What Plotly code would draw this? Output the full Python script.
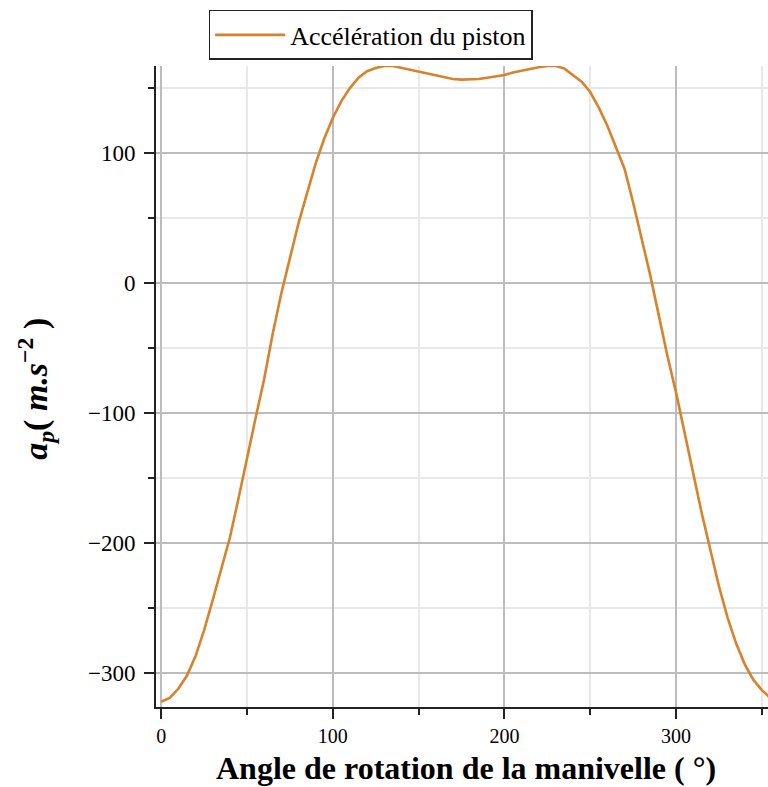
import plotly.graph_objects as go

# Crank angle (degrees)
angle_deg = [0, 5, 10, 15, 20, 25, 30, 35, 40, 45, 50, 55, 60, 65, 70, 75, 80, 85, 90, 95,
             100, 105, 110, 115, 120, 125, 130, 135, 140, 145, 150, 155, 160, 165, 170, 175,
             180, 185, 190, 195, 200, 205, 210, 215, 220, 225, 230, 235, 240, 245, 250, 255,
             260, 265, 270, 275, 280, 285, 290, 295, 300, 305, 310, 315, 320, 325, 330, 335,
             340, 345, 350, 355, 360]
# Piston acceleration (m.s^-2)
accel = [-322, -319, -312, -302, -287, -267, -244, -220, -196, -166, -134, -104, -74, -39, -8, 20,
         46, 69, 92, 111, 127, 140, 150, 158, 163, 165.5, 167, 167, 165.5, 164, 162.5, 161, 159.5,
         158.5, 157, 156.5, 156.5, 157, 158, 159, 160, 162, 163.5, 164.5, 166, 167, 167, 165,
         160, 155, 147, 135, 121, 104, 88, 62, 35, 6, -25, -56, -84, -115, -148, -177, -205,
         -233, -257, -277, -293, -305, -313, -319, -322]

series_name = "Accélération du piston"
x_major_ticks = [0, 100, 200, 300]
y_major_ticks = [-300, -200, -100, 0, 100]

fig = go.Figure()
fig.add_trace(go.Scatter(
    x=angle_deg, y=accel, mode="lines", name=series_name,
    line=dict(color="#D8822C", width=2.6),
))

serif = "Liberation Serif"
fig.update_layout(
    width=768, height=787,
    margin=dict(l=156, r=0, t=66, b=80),
    plot_bgcolor="white", paper_bgcolor="white",
    font=dict(family=serif, color="black", size=20),
    showlegend=True,
    legend=dict(
        x=0.086, y=1.0874, xanchor="left", yanchor="top",
        orientation="h", bordercolor="#222222", borderwidth=1.5,
        bgcolor="white", font=dict(family=serif, size=26, color="black"),
        itemwidth=70,
    ),
    xaxis=dict(
        range=[-3, 353.6], tickvals=x_major_ticks, ticks="outside", ticklen=10,
        tickwidth=1.5, tickcolor="#222222",
        showline=True, linecolor="#222222", linewidth=2,
        showgrid=True, gridcolor="#bdbdbd", gridwidth=2, zeroline=False,
        minor=dict(dtick=50, tick0=0, ticks="outside", ticklen=6, tickcolor="#222222",
                   showgrid=True, gridcolor="#e8e8e8", gridwidth=1.5),
        tickfont=dict(family=serif, size=20),
    ),
    yaxis=dict(
        range=[-326, 167], tickvals=y_major_ticks, ticks="outside", ticklen=10,
        tickwidth=1.5, tickcolor="#222222",
        showline=True, linecolor="#222222", linewidth=2,
        showgrid=True, gridcolor="#bdbdbd", gridwidth=2, zeroline=False,
        minor=dict(dtick=50, tick0=0, ticks="outside", ticklen=6, tickcolor="#222222",
                   showgrid=True, gridcolor="#e8e8e8", gridwidth=1.5),
        tickfont=dict(family=serif, size=23),
        ticklabelstandoff=4,
    ),
    annotations=[
        dict(text="<b>Angle de rotation de la manivelle ( °)</b>",
             xref="paper", yref="paper", x=0.507, y=-0.1253, xanchor="center", yanchor="bottom",
             borderpad=0,
             showarrow=False, font=dict(family=serif, size=32, color="black")),
        dict(text="<b><i>a</i><sub><i>p</i></sub>( <i>m.s</i><sup>−2</sup> )</b>",
             xref="paper", yref="paper", x=-0.197, y=0.497, xanchor="center", yanchor="middle",
             textangle=-90, showarrow=False, font=dict(family=serif, size=34, color="black")),
    ],
)

fig.write_html("out.html")
